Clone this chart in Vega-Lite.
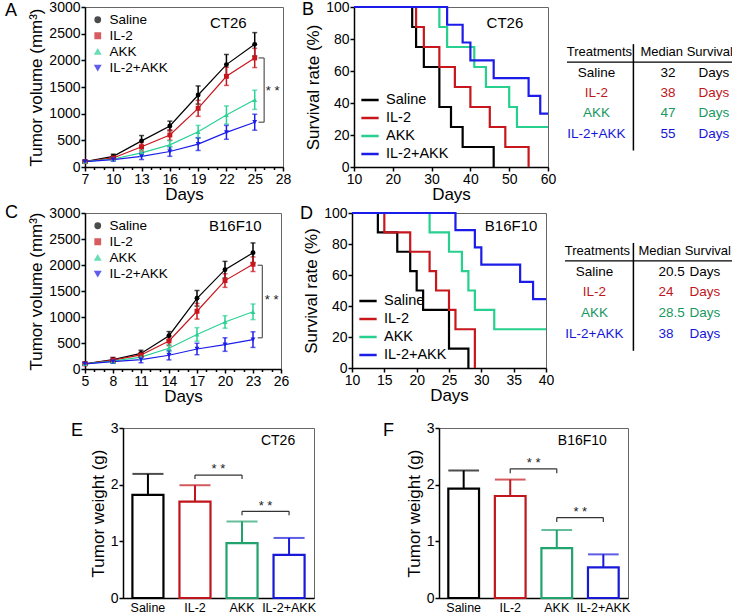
{
  "$schema": "https://vega.github.io/schema/vega-lite/v6.json",
  "padding": {"left": -6, "top": -1, "right": 0, "bottom": 0},
  "config": {
    "font": "Liberation Sans",
    "view": {"stroke": "#666", "strokeWidth": 1},
    "axis": {"grid": false, "domainColor": "#000", "domainWidth": 1.5, "tickColor": "#000", "tickWidth": 1.5, "tickSize": 4, "labelColor": "#000", "labelFontSize": 14, "titleFontSize": 17, "titleFontWeight": "normal", "titleColor": "#000", "labelFont": "Liberation Sans", "titleFont": "Liberation Sans", "labelPadding": 1, "titlePadding": 3, "labelOverlap": false, "labelFlush": false},
    "axisX": {"titlePadding": 0},
    "legend": {"labelFont": "Liberation Sans", "labelColor": "#000"},
    "title": {"anchor": "start", "frame": "group", "fontSize": 18, "fontWeight": "normal", "color": "#000", "font": "Liberation Sans"},
    "text": {"font": "Liberation Sans"}
  },
  "datasets": {
    "ct26growth": [
      {"group": "Saline", "day": 7, "mean": 100, "sd": 25}, {"group": "Saline", "day": 10, "mean": 200, "sd": 40}, {"group": "Saline", "day": 13, "mean": 490, "sd": 100}, {"group": "Saline", "day": 16, "mean": 770, "sd": 90}, {"group": "Saline", "day": 19, "mean": 1350, "sd": 170}, {"group": "Saline", "day": 22, "mean": 1920, "sd": 190}, {"group": "Saline", "day": 25, "mean": 2300, "sd": 220},
      {"group": "IL-2", "day": 7, "mean": 100, "sd": 25}, {"group": "IL-2", "day": 10, "mean": 170, "sd": 35}, {"group": "IL-2", "day": 13, "mean": 380, "sd": 80}, {"group": "IL-2", "day": 16, "mean": 600, "sd": 100}, {"group": "IL-2", "day": 19, "mean": 1100, "sd": 150}, {"group": "IL-2", "day": 22, "mean": 1700, "sd": 170}, {"group": "IL-2", "day": 25, "mean": 2045, "sd": 180},
      {"group": "AKK", "day": 7, "mean": 100, "sd": 20}, {"group": "AKK", "day": 10, "mean": 150, "sd": 30}, {"group": "AKK", "day": 13, "mean": 265, "sd": 60}, {"group": "AKK", "day": 16, "mean": 415, "sd": 80}, {"group": "AKK", "day": 19, "mean": 660, "sd": 120}, {"group": "AKK", "day": 22, "mean": 975, "sd": 170}, {"group": "AKK", "day": 25, "mean": 1260, "sd": 180},
      {"group": "IL-2+AKK", "day": 7, "mean": 100, "sd": 20}, {"group": "IL-2+AKK", "day": 10, "mean": 140, "sd": 30}, {"group": "IL-2+AKK", "day": 13, "mean": 200, "sd": 60}, {"group": "IL-2+AKK", "day": 16, "mean": 290, "sd": 90}, {"group": "IL-2+AKK", "day": 19, "mean": 430, "sd": 120}, {"group": "IL-2+AKK", "day": 22, "mean": 650, "sd": 130}, {"group": "IL-2+AKK", "day": 25, "mean": 840, "sd": 150}
    ],
    "b16growth": [
      {"group": "Saline", "day": 5, "mean": 100, "sd": 30}, {"group": "Saline", "day": 8, "mean": 180, "sd": 40}, {"group": "Saline", "day": 11, "mean": 300, "sd": 60}, {"group": "Saline", "day": 14, "mean": 640, "sd": 80}, {"group": "Saline", "day": 17, "mean": 1360, "sd": 150}, {"group": "Saline", "day": 20, "mean": 1910, "sd": 160}, {"group": "Saline", "day": 23, "mean": 2235, "sd": 190},
      {"group": "IL-2", "day": 5, "mean": 100, "sd": 30}, {"group": "IL-2", "day": 8, "mean": 170, "sd": 50}, {"group": "IL-2", "day": 11, "mean": 270, "sd": 50}, {"group": "IL-2", "day": 14, "mean": 540, "sd": 90}, {"group": "IL-2", "day": 17, "mean": 1110, "sd": 150}, {"group": "IL-2", "day": 20, "mean": 1700, "sd": 130}, {"group": "IL-2", "day": 23, "mean": 2015, "sd": 140},
      {"group": "AKK", "day": 5, "mean": 100, "sd": 25}, {"group": "AKK", "day": 8, "mean": 150, "sd": 40}, {"group": "AKK", "day": 11, "mean": 230, "sd": 50}, {"group": "AKK", "day": 14, "mean": 400, "sd": 70}, {"group": "AKK", "day": 17, "mean": 665, "sd": 130}, {"group": "AKK", "day": 20, "mean": 905, "sd": 120}, {"group": "AKK", "day": 23, "mean": 1100, "sd": 150},
      {"group": "IL-2+AKK", "day": 5, "mean": 100, "sd": 25}, {"group": "IL-2+AKK", "day": 8, "mean": 140, "sd": 30}, {"group": "IL-2+AKK", "day": 11, "mean": 180, "sd": 60}, {"group": "IL-2+AKK", "day": 14, "mean": 265, "sd": 90}, {"group": "IL-2+AKK", "day": 17, "mean": 385, "sd": 110}, {"group": "IL-2+AKK", "day": 20, "mean": 470, "sd": 130}, {"group": "IL-2+AKK", "day": 23, "mean": 565, "sd": 150}
    ],
    "ct26surv": [
      {"group": "Saline", "day": 10, "surv": 100}, {"group": "Saline", "day": 25, "surv": 87.5}, {"group": "Saline", "day": 26, "surv": 75}, {"group": "Saline", "day": 28, "surv": 62.5}, {"group": "Saline", "day": 32, "surv": 37.5}, {"group": "Saline", "day": 35, "surv": 25}, {"group": "Saline", "day": 38, "surv": 12.5}, {"group": "Saline", "day": 46, "surv": 0},
      {"group": "IL-2", "day": 10, "surv": 100}, {"group": "IL-2", "day": 26, "surv": 87.5}, {"group": "IL-2", "day": 28, "surv": 75}, {"group": "IL-2", "day": 32, "surv": 62.5}, {"group": "IL-2", "day": 36, "surv": 50}, {"group": "IL-2", "day": 40, "surv": 37.5}, {"group": "IL-2", "day": 45, "surv": 25}, {"group": "IL-2", "day": 49, "surv": 12.5}, {"group": "IL-2", "day": 55, "surv": 0},
      {"group": "AKK", "day": 10, "surv": 100}, {"group": "AKK", "day": 32, "surv": 87.5}, {"group": "AKK", "day": 34, "surv": 75}, {"group": "AKK", "day": 41, "surv": 62.5}, {"group": "AKK", "day": 44, "surv": 50}, {"group": "AKK", "day": 50, "surv": 37.5}, {"group": "AKK", "day": 52, "surv": 25}, {"group": "AKK", "day": 60, "surv": 25},
      {"group": "IL-2+AKK", "day": 10, "surv": 100}, {"group": "IL-2+AKK", "day": 34, "surv": 88.9}, {"group": "IL-2+AKK", "day": 38, "surv": 77.8}, {"group": "IL-2+AKK", "day": 40, "surv": 66.7}, {"group": "IL-2+AKK", "day": 46, "surv": 55.6}, {"group": "IL-2+AKK", "day": 55, "surv": 44.4}, {"group": "IL-2+AKK", "day": 58, "surv": 33.3}, {"group": "IL-2+AKK", "day": 60, "surv": 33.3}
    ],
    "b16surv": [
      {"group": "Saline", "day": 10, "surv": 100}, {"group": "Saline", "day": 14, "surv": 87.5}, {"group": "Saline", "day": 17, "surv": 75}, {"group": "Saline", "day": 19, "surv": 62.5}, {"group": "Saline", "day": 20, "surv": 50}, {"group": "Saline", "day": 21, "surv": 37.5}, {"group": "Saline", "day": 25, "surv": 12.5}, {"group": "Saline", "day": 28, "surv": 0},
      {"group": "IL-2", "day": 10, "surv": 100}, {"group": "IL-2", "day": 15, "surv": 87.5}, {"group": "IL-2", "day": 19, "surv": 75}, {"group": "IL-2", "day": 22, "surv": 62.5}, {"group": "IL-2", "day": 23, "surv": 50}, {"group": "IL-2", "day": 25, "surv": 37.5}, {"group": "IL-2", "day": 26, "surv": 25}, {"group": "IL-2", "day": 29, "surv": 0},
      {"group": "AKK", "day": 10, "surv": 100}, {"group": "AKK", "day": 22, "surv": 87.5}, {"group": "AKK", "day": 25, "surv": 75}, {"group": "AKK", "day": 27, "surv": 62.5}, {"group": "AKK", "day": 28, "surv": 50}, {"group": "AKK", "day": 29, "surv": 37.5}, {"group": "AKK", "day": 32, "surv": 25}, {"group": "AKK", "day": 40, "surv": 25},
      {"group": "IL-2+AKK", "day": 10, "surv": 100}, {"group": "IL-2+AKK", "day": 26, "surv": 88.9}, {"group": "IL-2+AKK", "day": 29, "surv": 77.8}, {"group": "IL-2+AKK", "day": 30, "surv": 66.7}, {"group": "IL-2+AKK", "day": 36, "surv": 55.6}, {"group": "IL-2+AKK", "day": 38, "surv": 44.4}, {"group": "IL-2+AKK", "day": 40, "surv": 44.4}
    ],
    "ct26median": [
      {"group": "Saline", "median": "32", "unit": "Days"}, {"group": "IL-2", "median": "38", "unit": "Days"}, {"group": "AKK", "median": "47", "unit": "Days"}, {"group": "IL-2+AKK", "median": "55", "unit": "Days"}
    ],
    "b16median": [
      {"group": "Saline", "median": "20.5", "unit": "Days"}, {"group": "IL-2", "median": "24", "unit": "Days"}, {"group": "AKK", "median": "28.5", "unit": "Days"}, {"group": "IL-2+AKK", "median": "38", "unit": "Days"}
    ],
    "ct26weight": [
      {"group": "Saline", "mean": 1.82, "sd": 0.37}, {"group": "IL-2", "mean": 1.70, "sd": 0.29}, {"group": "AKK", "mean": 0.97, "sd": 0.38}, {"group": "IL-2+AKK", "mean": 0.76, "sd": 0.30}
    ],
    "b16weight": [
      {"group": "Saline", "mean": 1.93, "sd": 0.32}, {"group": "IL-2", "mean": 1.80, "sd": 0.29}, {"group": "AKK", "mean": 0.88, "sd": 0.32}, {"group": "IL-2+AKK", "mean": 0.54, "sd": 0.23}
    ],
    "ct26sig": [
      {"from": "IL-2", "to": "AKK", "y": 2.17, "yl": 2.10, "ys": 2.27},
      {"from": "AKK", "to": "IL-2+AKK", "y": 1.53, "yl": 1.46, "ys": 1.62}
    ],
    "b16sig": [
      {"from": "IL-2", "to": "AKK", "y": 2.28, "yl": 2.20, "ys": 2.38},
      {"from": "AKK", "to": "IL-2+AKK", "y": 1.42, "yl": 1.34, "ys": 1.52}
    ]
  },
  "columns": 1,
  "spacing": 15,
  "align": "none",
  "center": false,
  "resolve": {"scale": {"color": "independent", "shape": "independent", "stroke": "independent"}, "legend": {"color": "independent", "shape": "independent", "stroke": "independent"}},
  "concat": [
    {
      "spacing": 0,
      "center": false,
      "resolve": {"scale": {"color": "independent", "shape": "independent", "stroke": "independent"}, "legend": {"color": "independent", "shape": "independent", "stroke": "independent"}},
      "vconcat": [
        {
          "spacing": 9,
          "center": false,
          "resolve": {"scale": {"color": "independent", "shape": "independent", "stroke": "independent"}, "legend": {"color": "independent", "shape": "independent", "stroke": "independent"}},
          "hconcat": [
            {"width": 1, "height": 10, "view": {"stroke": null, "fill": "white"}, "data": {"values": []}, "mark": "text"},
            {
              "width": 198, "height": 160,
              "title": {"text": "A", "dx": -80, "offset": -20},
              "layer": [
                {"data": {"name": "ct26growth"}, "mark": {"type": "line", "strokeWidth": 1.2},
                 "encoding": {
                   "x": {"field": "day", "type": "quantitative", "title": "Days", "scale": {"domain": [7, 28], "nice": false, "zero": false},
                         "axis": {"tickCount": 50, "format": "d", "values": [7,8,9,10,11,12,13,14,15,16,17,18,19,20,21,22,23,24,25,26,27,28], "labelExpr": "(datum.value - 7) % 3 == 0 ? datum.label : ''", "tickSize": {"condition": {"test": "(datum.value - 7) % 3 == 0", "value": 4}, "value": 2.5}}},
                   "y": {"field": "mean", "type": "quantitative", "title": "Tumor volume (mm³)", "scale": {"domain": [0, 3000], "nice": false}, "axis": {"tickCount": 50, "values": [0, 500, 1000, 1500, 2000, 2500, 3000], "format": "d"}},
                   "color": {"field": "group", "type": "nominal", "scale": {"domain": ["Saline", "IL-2", "AKK", "IL-2+AKK"], "range": ["#000000", "#c8161d", "#2bd195", "#1c1ce8"]},
                             "legend": {"title": null, "orient": "top-left", "offset": 6, "labelFontSize": 13.5, "symbolSize": 28, "rowPadding": 1, "labelOffset": 5, "padding": 0}}
                 }},
                {"data": {"name": "ct26growth"}, "mark": {"type": "errorbar", "ticks": true, "thickness": 1.5},
                 "encoding": {
                   "x": {"field": "day", "type": "quantitative", "title": "Days"},
                   "y": {"field": "mean", "type": "quantitative", "title": "Tumor volume (mm³)"},
                   "yError": {"field": "sd"},
                   "color": {"field": "group", "type": "nominal"}
                 }},
                {"data": {"name": "ct26growth"}, "mark": {"type": "point", "filled": true, "size": 24, "opacity": 1},
                 "encoding": {
                   "x": {"field": "day", "type": "quantitative", "title": "Days"},
                   "y": {"field": "mean", "type": "quantitative", "title": "Tumor volume (mm³)"},
                   "color": {"field": "group", "type": "nominal"},
                   "shape": {"field": "group", "type": "nominal", "scale": {"domain": ["Saline", "IL-2", "AKK", "IL-2+AKK"], "range": ["circle", "square", "triangle-up", "triangle-down"]},
                             "legend": {"title": null, "orient": "top-left", "offset": 6, "labelFontSize": 13.5, "symbolSize": 28, "rowPadding": 1, "labelOffset": 5, "padding": 0}}
                 }},
                {"data": {"values": [{}]}, "mark": {"type": "rule", "color": "#555", "strokeWidth": 1.2},
                 "encoding": {"x": {"datum": 26}, "y": {"datum": 2045}, "y2": {"datum": 840}}},
                {"data": {"values": [{}]}, "mark": {"type": "rule", "color": "#555", "strokeWidth": 1.2},
                 "encoding": {"x": {"datum": 25.4}, "x2": {"datum": 26}, "y": {"datum": 2045}}},
                {"data": {"values": [{}]}, "mark": {"type": "rule", "color": "#555", "strokeWidth": 1.2},
                 "encoding": {"x": {"datum": 25.4}, "x2": {"datum": 26}, "y": {"datum": 840}}},
                {"data": {"values": [{}]}, "mark": {"type": "text", "text": "* *", "fontSize": 13, "color": "#222"},
                 "encoding": {"x": {"datum": 26.9}, "y": {"datum": 1420}}},
                {"data": {"values": [{}]}, "mark": {"type": "text", "text": "CT26", "fontSize": 15, "color": "#000"},
                 "encoding": {"x": {"datum": 22.2}, "y": {"datum": 2700}}}
              ]
            },
            {
              "width": 194, "height": 160,
              "title": {"text": "B", "dx": -52, "offset": -19},
              "layer": [
                {"data": {"name": "ct26surv"}, "mark": {"type": "line", "interpolate": "step-after", "strokeWidth": 2.2},
                 "encoding": {
                   "x": {"field": "day", "type": "quantitative", "scale": {"domain": [10, 60], "nice": false, "zero": false}, "axis": {"tickCount": 50, "format": "d", "title": "Days", "values": [10, 20, 30, 40, 50, 60]}},
                   "y": {"field": "surv", "type": "quantitative", "scale": {"domain": [0, 100], "nice": false}, "axis": {"tickCount": 50, "format": "d", "title": "Survival rate (%)", "values": [0, 20, 40, 60, 80, 100]}},
                   "color": {"field": "group", "type": "nominal", "scale": {"domain": ["Saline", "IL-2", "AKK", "IL-2+AKK"], "range": ["#000000", "#c8161d", "#27d08e", "#1c1ce8"]},
                             "legend": {"title": null, "orient": "bottom-left", "offset": 6, "symbolType": "stroke", "symbolSize": 300, "symbolStrokeWidth": 2.5, "labelFontSize": 14.5, "rowPadding": 1, "labelOffset": 6, "padding": 0}}
                 }},
                {"data": {"values": [{}]}, "mark": {"type": "text", "text": "CT26", "fontSize": 15, "color": "#000"},
                 "encoding": {"x": {"datum": 48.9}, "y": {"datum": 90}}}
              ]
            },
            {
              "width": 169, "height": 131,
              "view": {"stroke": null, "fill": "white"},
              "layer": [
                {"data": {"name": "ct26median"}, "mark": {"type": "text", "align": "center", "baseline": "middle", "fontSize": 13.5},
                 "encoding": {
                   "x": {"datum": "Treatment", "type": "nominal", "scale": {"type": "point", "domain": ["Treatment", "Median"], "padding": 0.82, "align": 0.28}, "axis": null},
                   "y": {"field": "group", "type": "nominal", "scale": {"type": "point", "domain": ["_a", "_b", "header", "Saline", "IL-2", "AKK", "IL-2+AKK"], "padding": 0.22}, "axis": null},
                   "text": {"field": "group"},
                   "color": {"field": "group", "type": "nominal", "scale": {"domain": ["Saline", "IL-2", "AKK", "IL-2+AKK"], "range": ["#000000", "#c0151c", "#17985f", "#1515d8"]}, "legend": null}
                 }},
                {"data": {"name": "ct26median"}, "mark": {"type": "text", "align": "left", "baseline": "middle", "fontSize": 13.5},
                 "encoding": {
                   "x": {"datum": "Median", "type": "nominal"},
                   "y": {"field": "group", "type": "nominal"},
                   "text": {"field": "median"},
                   "color": {"field": "group", "type": "nominal"}
                 }},
                {"data": {"name": "ct26median"}, "mark": {"type": "text", "align": "left", "baseline": "middle", "fontSize": 13.5, "dx": 38},
                 "encoding": {
                   "x": {"datum": "Median", "type": "nominal"},
                   "y": {"field": "group", "type": "nominal"},
                   "text": {"field": "unit"},
                   "color": {"field": "group", "type": "nominal"}
                 }},
                {"data": {"values": [{}]}, "mark": {"type": "text", "align": "center", "baseline": "middle", "fontSize": 13, "text": "Treatments", "color": "#000", "dx": 3},
                 "encoding": {"x": {"datum": "Treatment", "type": "nominal"}, "y": {"datum": "header", "type": "nominal"}}},
                {"data": {"values": [{}]}, "mark": {"type": "text", "align": "left", "baseline": "middle", "fontSize": 13, "text": "Median Survival", "color": "#000", "dx": -20},
                 "encoding": {"x": {"datum": "Median", "type": "nominal"}, "y": {"datum": "header", "type": "nominal"}}},
                {"data": {"values": [{}]}, "mark": {"type": "rule", "color": "#000", "strokeWidth": 1.2, "yOffset": 10},
                 "encoding": {"y": {"datum": "header", "type": "nominal"}}},
                {"data": {"values": [{}]}, "mark": {"type": "rule", "color": "#000", "strokeWidth": 1.5, "xOffset": -27, "yOffset": -8, "y2Offset": 17},
                 "encoding": {"x": {"datum": "Median", "type": "nominal"}, "y": {"datum": "header", "type": "nominal"}, "y2": {"datum": "IL-2+AKK"}}}
              ]
            }
          ]
        },
        {
          "spacing": 9,
          "center": false,
          "resolve": {"scale": {"color": "independent", "shape": "independent", "stroke": "independent"}, "legend": {"color": "independent", "shape": "independent", "stroke": "independent"}},
          "hconcat": [
            {"width": 1, "height": 10, "view": {"stroke": null, "fill": "white"}, "data": {"values": []}, "mark": "text"},
            {
              "width": 196, "height": 156,
              "title": {"text": "C", "dx": -80, "offset": -16},
              "layer": [
                {"data": {"name": "b16growth"}, "mark": {"type": "line", "strokeWidth": 1.2},
                 "encoding": {
                   "x": {"field": "day", "type": "quantitative", "title": "Days", "scale": {"domain": [5, 26], "nice": false, "zero": false},
                         "axis": {"tickCount": 50, "format": "d", "values": [5,6,7,8,9,10,11,12,13,14,15,16,17,18,19,20,21,22,23,24,25,26], "labelExpr": "(datum.value - 5) % 3 == 0 ? datum.label : ''", "tickSize": {"condition": {"test": "(datum.value - 5) % 3 == 0", "value": 4}, "value": 2.5}}},
                   "y": {"field": "mean", "type": "quantitative", "title": "Tumor volume (mm³)", "scale": {"domain": [0, 3000], "nice": false}, "axis": {"tickCount": 50, "values": [0, 500, 1000, 1500, 2000, 2500, 3000], "format": "d"}},
                   "color": {"field": "group", "type": "nominal", "scale": {"domain": ["Saline", "IL-2", "AKK", "IL-2+AKK"], "range": ["#000000", "#c8161d", "#2bd195", "#1c1ce8"]},
                             "legend": {"title": null, "orient": "top-left", "offset": 6, "labelFontSize": 13.5, "symbolSize": 28, "rowPadding": 1, "labelOffset": 5, "padding": 0}}
                 }},
                {"data": {"name": "b16growth"}, "mark": {"type": "errorbar", "ticks": true, "thickness": 1.5},
                 "encoding": {
                   "x": {"field": "day", "type": "quantitative", "title": "Days"},
                   "y": {"field": "mean", "type": "quantitative", "title": "Tumor volume (mm³)"},
                   "yError": {"field": "sd"},
                   "color": {"field": "group", "type": "nominal"}
                 }},
                {"data": {"name": "b16growth"}, "mark": {"type": "point", "filled": true, "size": 24, "opacity": 1},
                 "encoding": {
                   "x": {"field": "day", "type": "quantitative", "title": "Days"},
                   "y": {"field": "mean", "type": "quantitative", "title": "Tumor volume (mm³)"},
                   "color": {"field": "group", "type": "nominal"},
                   "shape": {"field": "group", "type": "nominal", "scale": {"domain": ["Saline", "IL-2", "AKK", "IL-2+AKK"], "range": ["circle", "square", "triangle-up", "triangle-down"]},
                             "legend": {"title": null, "orient": "top-left", "offset": 6, "labelFontSize": 13.5, "symbolSize": 28, "rowPadding": 1, "labelOffset": 5, "padding": 0}}
                 }},
                {"data": {"values": [{}]}, "mark": {"type": "rule", "color": "#555", "strokeWidth": 1.2},
                 "encoding": {"x": {"datum": 24}, "y": {"datum": 1995}, "y2": {"datum": 600}}},
                {"data": {"values": [{}]}, "mark": {"type": "rule", "color": "#555", "strokeWidth": 1.2},
                 "encoding": {"x": {"datum": 23.5}, "x2": {"datum": 24}, "y": {"datum": 1995}}},
                {"data": {"values": [{}]}, "mark": {"type": "rule", "color": "#555", "strokeWidth": 1.2},
                 "encoding": {"x": {"datum": 23.5}, "x2": {"datum": 24}, "y": {"datum": 600}}},
                {"data": {"values": [{}]}, "mark": {"type": "text", "text": "* *", "fontSize": 13, "color": "#222"},
                 "encoding": {"x": {"datum": 25}, "y": {"datum": 1320}}},
                {"data": {"values": [{}]}, "mark": {"type": "text", "text": "B16F10", "fontSize": 15, "color": "#000"},
                 "encoding": {"x": {"datum": 21.1}, "y": {"datum": 2750}}}
              ]
            },
            {
              "width": 194, "height": 155,
              "title": {"text": "D", "dx": -52, "offset": -17},
              "layer": [
                {"data": {"name": "b16surv"}, "mark": {"type": "line", "interpolate": "step-after", "strokeWidth": 2.2},
                 "encoding": {
                   "x": {"field": "day", "type": "quantitative", "scale": {"domain": [10, 40], "nice": false, "zero": false}, "axis": {"tickCount": 50, "format": "d", "title": "Days", "values": [10, 15, 20, 25, 30, 35, 40]}},
                   "y": {"field": "surv", "type": "quantitative", "scale": {"domain": [0, 100], "nice": false}, "axis": {"tickCount": 50, "format": "d", "title": "Survival rate (%)", "values": [0, 20, 40, 60, 80, 100]}},
                   "color": {"field": "group", "type": "nominal", "scale": {"domain": ["Saline", "IL-2", "AKK", "IL-2+AKK"], "range": ["#000000", "#c8161d", "#27d08e", "#1c1ce8"]},
                             "legend": {"title": null, "orient": "bottom-left", "offset": 6, "symbolType": "stroke", "symbolSize": 300, "symbolStrokeWidth": 2.5, "labelFontSize": 14.5, "rowPadding": 1, "labelOffset": 6, "padding": 0}}
                 }},
                {"data": {"values": [{}]}, "mark": {"type": "text", "text": "B16F10", "fontSize": 15, "color": "#000"},
                 "encoding": {"x": {"datum": 34.6}, "y": {"datum": 91.5}}}
              ]
            },
            {
              "width": 169, "height": 138,
              "view": {"stroke": null, "fill": "white"},
              "layer": [
                {"data": {"name": "b16median"}, "mark": {"type": "text", "align": "center", "baseline": "middle", "fontSize": 13.5},
                 "encoding": {
                   "x": {"datum": "Treatment", "type": "nominal", "scale": {"type": "point", "domain": ["Treatment", "Median"], "padding": 0.82, "align": 0.28}, "axis": null},
                   "y": {"field": "group", "type": "nominal", "scale": {"type": "point", "domain": ["_a", "header", "Saline", "IL-2", "AKK", "IL-2+AKK"], "padding": 0.83}, "axis": null},
                   "text": {"field": "group"},
                   "color": {"field": "group", "type": "nominal", "scale": {"domain": ["Saline", "IL-2", "AKK", "IL-2+AKK"], "range": ["#000000", "#c0151c", "#17985f", "#1515d8"]}, "legend": null}
                 }},
                {"data": {"name": "b16median"}, "mark": {"type": "text", "align": "left", "baseline": "middle", "fontSize": 13.5},
                 "encoding": {
                   "x": {"datum": "Median", "type": "nominal"},
                   "y": {"field": "group", "type": "nominal"},
                   "text": {"field": "median"},
                   "color": {"field": "group", "type": "nominal"}
                 }},
                {"data": {"name": "b16median"}, "mark": {"type": "text", "align": "left", "baseline": "middle", "fontSize": 13.5, "dx": 31},
                 "encoding": {
                   "x": {"datum": "Median", "type": "nominal"},
                   "y": {"field": "group", "type": "nominal"},
                   "text": {"field": "unit"},
                   "color": {"field": "group", "type": "nominal"}
                 }},
                {"data": {"values": [{}]}, "mark": {"type": "text", "align": "center", "baseline": "middle", "fontSize": 13, "text": "Treatments", "color": "#000", "dx": 3},
                 "encoding": {"x": {"datum": "Treatment", "type": "nominal"}, "y": {"datum": "header", "type": "nominal"}}},
                {"data": {"values": [{}]}, "mark": {"type": "text", "align": "left", "baseline": "middle", "fontSize": 13, "text": "Median Survival", "color": "#000", "dx": -20},
                 "encoding": {"x": {"datum": "Median", "type": "nominal"}, "y": {"datum": "header", "type": "nominal"}}},
                {"data": {"values": [{}]}, "mark": {"type": "rule", "color": "#000", "strokeWidth": 1.2, "yOffset": 10},
                 "encoding": {"y": {"datum": "header", "type": "nominal"}}},
                {"data": {"values": [{}]}, "mark": {"type": "rule", "color": "#000", "strokeWidth": 1.5, "xOffset": -25, "yOffset": -8, "y2Offset": 17},
                 "encoding": {"x": {"datum": "Median", "type": "nominal"}, "y": {"datum": "header", "type": "nominal"}, "y2": {"datum": "IL-2+AKK"}}}
              ]
            }
          ]
        }
      ]
    },
    {
      "spacing": 66,
      "center": false,
      "resolve": {"scale": {"color": "independent", "shape": "independent", "stroke": "independent"}, "legend": {"color": "independent", "shape": "independent", "stroke": "independent"}},
      "hconcat": [
        {"width": 10, "height": 10, "view": {"stroke": null, "fill": "white"}, "data": {"values": []}, "mark": "text"},
        {
          "width": 191, "height": 170,
          "title": {"text": "E", "dx": -52, "offset": -19},
          "layer": [
            {"data": {"name": "ct26weight"}, "mark": {"type": "errorbar", "ticks": true, "thickness": 2},
             "encoding": {
               "x": {"field": "group", "type": "nominal", "title": null, "sort": ["Saline", "IL-2", "AKK", "IL-2+AKK"], "scale": {"domain": ["Saline", "IL-2", "AKK", "IL-2+AKK"], "paddingInner": 0.34, "paddingOuter": 0.2}, "axis": {"labelAngle": 0, "ticks": false, "labelPadding": 3, "labelFontSize": 12.5}},
               "y": {"field": "mean", "type": "quantitative", "title": "Tumor weight (g)", "scale": {"domain": [0, 3], "nice": false}, "axis": {"tickCount": 50, "values": [0, 1, 2, 3], "format": "d"}},
               "yError": {"field": "sd"},
               "color": {"field": "group", "type": "nominal", "scale": {"domain": ["Saline", "IL-2", "AKK", "IL-2+AKK"], "range": ["#000000", "#c0151c", "#21a36e", "#1818d8"]}, "legend": null}
             }},
            {"data": {"name": "ct26weight"}, "mark": {"type": "bar", "fill": "white", "strokeWidth": 2.2},
             "encoding": {
               "x": {"field": "group", "type": "nominal", "title": null},
               "y": {"field": "mean", "type": "quantitative", "title": "Tumor weight (g)"},
               "stroke": {"field": "group", "type": "nominal", "scale": {"domain": ["Saline", "IL-2", "AKK", "IL-2+AKK"], "range": ["#000000", "#c0151c", "#21a36e", "#1818d8"]}, "legend": null}
             }},
            {"data": {"name": "ct26sig"}, "mark": {"type": "rule", "color": "#333", "strokeWidth": 1.2},
             "encoding": {"x": {"field": "from", "type": "nominal", "title": null}, "x2": {"field": "to"}, "y": {"field": "y", "type": "quantitative", "title": "Tumor weight (g)"}}},
            {"data": {"name": "ct26sig"}, "mark": {"type": "rule", "color": "#333", "strokeWidth": 1.2},
             "encoding": {"x": {"field": "from", "type": "nominal", "title": null}, "y": {"field": "yl", "type": "quantitative", "title": "Tumor weight (g)"}, "y2": {"field": "y"}}},
            {"data": {"name": "ct26sig"}, "mark": {"type": "rule", "color": "#333", "strokeWidth": 1.2},
             "encoding": {"x": {"field": "to", "type": "nominal", "title": null}, "y": {"field": "yl", "type": "quantitative", "title": "Tumor weight (g)"}, "y2": {"field": "y"}}},
            {"data": {"name": "ct26sig"}, "mark": {"type": "text", "text": "* *", "fontSize": 13, "color": "#222", "dx": 23.5},
             "encoding": {"x": {"field": "from", "type": "nominal", "title": null}, "y": {"field": "ys", "type": "quantitative", "title": "Tumor weight (g)"}}},
            {"data": {"values": [{}]}, "mark": {"type": "text", "text": "CT26", "fontSize": 14, "color": "#000", "dx": -11},
             "encoding": {"x": {"datum": "IL-2+AKK", "type": "nominal"}, "y": {"datum": 2.77, "type": "quantitative"}}}
          ]
        },
        {
          "width": 189, "height": 170,
          "title": {"text": "F", "dx": -56, "offset": -19},
          "layer": [
            {"data": {"name": "b16weight"}, "mark": {"type": "errorbar", "ticks": true, "thickness": 2},
             "encoding": {
               "x": {"field": "group", "type": "nominal", "title": null, "sort": ["Saline", "IL-2", "AKK", "IL-2+AKK"], "scale": {"domain": ["Saline", "IL-2", "AKK", "IL-2+AKK"], "paddingInner": 0.34, "paddingOuter": 0.2}, "axis": {"labelAngle": 0, "ticks": false, "labelPadding": 3, "labelFontSize": 12.5}},
               "y": {"field": "mean", "type": "quantitative", "title": "Tumor weight (g)", "scale": {"domain": [0, 3], "nice": false}, "axis": {"tickCount": 50, "values": [0, 1, 2, 3], "format": "d"}},
               "yError": {"field": "sd"},
               "color": {"field": "group", "type": "nominal", "scale": {"domain": ["Saline", "IL-2", "AKK", "IL-2+AKK"], "range": ["#000000", "#c0151c", "#21a36e", "#1818d8"]}, "legend": null}
             }},
            {"data": {"name": "b16weight"}, "mark": {"type": "bar", "fill": "white", "strokeWidth": 2.2},
             "encoding": {
               "x": {"field": "group", "type": "nominal", "title": null},
               "y": {"field": "mean", "type": "quantitative", "title": "Tumor weight (g)"},
               "stroke": {"field": "group", "type": "nominal", "scale": {"domain": ["Saline", "IL-2", "AKK", "IL-2+AKK"], "range": ["#000000", "#c0151c", "#21a36e", "#1818d8"]}, "legend": null}
             }},
            {"data": {"name": "b16sig"}, "mark": {"type": "rule", "color": "#333", "strokeWidth": 1.2},
             "encoding": {"x": {"field": "from", "type": "nominal", "title": null}, "x2": {"field": "to"}, "y": {"field": "y", "type": "quantitative", "title": "Tumor weight (g)"}}},
            {"data": {"name": "b16sig"}, "mark": {"type": "rule", "color": "#333", "strokeWidth": 1.2},
             "encoding": {"x": {"field": "from", "type": "nominal", "title": null}, "y": {"field": "yl", "type": "quantitative", "title": "Tumor weight (g)"}, "y2": {"field": "y"}}},
            {"data": {"name": "b16sig"}, "mark": {"type": "rule", "color": "#333", "strokeWidth": 1.2},
             "encoding": {"x": {"field": "to", "type": "nominal", "title": null}, "y": {"field": "yl", "type": "quantitative", "title": "Tumor weight (g)"}, "y2": {"field": "y"}}},
            {"data": {"name": "b16sig"}, "mark": {"type": "text", "text": "* *", "fontSize": 13, "color": "#222", "dx": 23.5},
             "encoding": {"x": {"field": "from", "type": "nominal", "title": null}, "y": {"field": "ys", "type": "quantitative", "title": "Tumor weight (g)"}}},
            {"data": {"values": [{}]}, "mark": {"type": "text", "text": "B16F10", "fontSize": 14, "color": "#000", "dx": -21},
             "encoding": {"x": {"datum": "IL-2+AKK", "type": "nominal"}, "y": {"datum": 2.77, "type": "quantitative"}}}
          ]
        }
      ]
    }
  ]
}
